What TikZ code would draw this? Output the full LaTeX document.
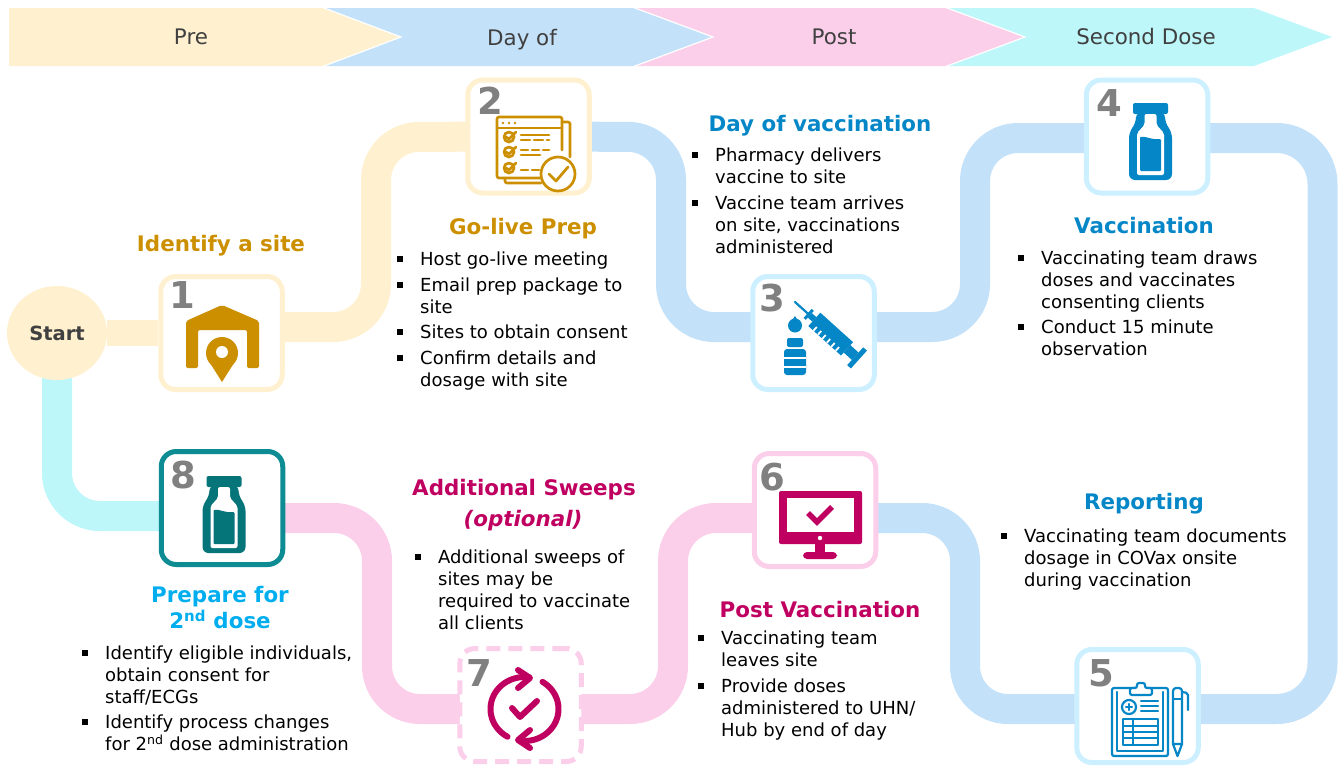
\documentclass[tikz,border=0pt]{standalone}
\usepackage{fontspec}
\usetikzlibrary{backgrounds,shapes.geometric}
\setmainfont{DejaVu Sans}
\definecolor{cream}{HTML}{FFF0D0}
\definecolor{sky}{HTML}{C4E1FA}
\definecolor{rose}{HTML}{FBCFEA}
\definecolor{aqua}{HTML}{BDF7FA}
\definecolor{gold}{HTML}{CC8F00}
\definecolor{ocean}{HTML}{0587C7}
\definecolor{magen}{HTML}{BF0060}
\definecolor{deepteal}{HTML}{06757A}
\definecolor{tealline}{HTML}{0E8C94}
\definecolor{paleblue}{HTML}{CCF0FF}
\definecolor{brightblue}{HTML}{00AEEF}
\definecolor{numgrey}{HTML}{808080}
\definecolor{ink}{HTML}{404040}
\tikzset{
  chev/.style={draw=none,fill=#1},
  phase/.style={font=\fontsize{21.4}{24}\selectfont,text=ink,inner sep=0pt},
  band/.style={line width=30pt,draw=#1,rounded corners=43pt},
  iconbox/.style={draw=#1,line width=5pt,fill=white,rounded corners=15pt,minimum width=121.5pt,minimum height=113pt,inner sep=0pt},
  num/.style={font=\bfseries\fontsize{37}{37}\selectfont,text=numgrey,inner sep=0pt},
  heading/.style={font=\bfseries\fontsize{21.4}{26}\selectfont,text=#1,inner sep=0pt,align=center},
  itemtext/.style={font=\fontsize{18}{22}\selectfont,text=black,inner sep=0pt,align=left,anchor=north west},
  ic/.style={line width=2.2pt,draw=#1,line cap=round,line join=round},
  icb/.style={line width=2.7pt,draw=#1,line cap=round,line join=round},
  arrowline/.style={magen,line width=6pt,line cap=round,line join=round},
  bottle/.pic={
    \fill[#1,rounded corners=2pt] (-17.5,0) rectangle (17.5,11);
    \fill[#1,rounded corners=6pt] (-14.5,9) -- (-14.5,20) -- (-21.5,29) -- (-21.5,77) -- (21.5,77) -- (21.5,29) -- (14.5,20) -- (14.5,9) -- cycle;
    \fill[white,rounded corners=2pt] (-6,11) -- (-6,22) -- (-13.5,30) -- (-13.5,72) -- (13.5,72) -- (13.5,30) -- (6,22) -- (6,11) -- cycle;
    \fill[#1,rounded corners=1pt] (-10.5,34) .. controls (-4,33) and (0,37) .. (10.5,36) -- (10.5,68) -- (-10.5,68) -- cycle;
  }
}
\newcommand{\bitem}[4]{%
  \node[itemtext] (#1) at (#2,#3-7.5) {#4};
  \fill[black] (#2-22.8,#3-2.8) rectangle (#2-17.2,#3+2.8);
}
\begin{document}
\begin{tikzpicture}[x=1pt,y=-1pt]
\useasboundingbox (0,0) rectangle (1338,766);
% phase chevrons
\fill[chev=cream] (9,8) -- (322,8) -- (399,37) -- (322,66) -- (9,66) -- cycle;
\fill[chev=sky] (326,8) -- (633,8) -- (711,37) -- (633,66) -- (326,66) -- (403,37) -- cycle;
\fill[chev=rose] (637,8) -- (945,8) -- (1023,37) -- (945,66) -- (637,66) -- (715,37) -- cycle;
\fill[chev=aqua] (949,8) -- (1254,8) -- (1332,37) -- (1254,66) -- (949,66) -- (1027,37) -- cycle;
\node[phase] (phPre) at (191,37) {Pre};
\node[phase] (phDay) at (522,40) {Day of};
\node[phase] (phPost) at (834,37) {Post};
\node[phase] (phSecond) at (1146,37) {Second Dose};
% start and icon boxes
\node[ellipse,fill=cream,minimum width=100pt,minimum height=94pt,inner sep=0pt,font=\bfseries\fontsize{19.5}{22}\selectfont,text=ink] (start) at (57,333) {Start};
\node[iconbox=cream] (b1) at (221.5,333) {};
\node[iconbox=cream] (b2) at (528.5,136.5) {};
\node[iconbox=paleblue] (b3) at (813.5,333) {};
\node[iconbox=paleblue] (b4) at (1147,136.5) {};
\node[iconbox=paleblue] (b5) at (1137.5,706) {};
\node[iconbox=rose] (b6) at (815,510) {};
\node[iconbox=rose,dash pattern=on 14pt off 8pt] (b7) at (520.5,705) {};
\node[iconbox=tealline] (b8) at (222,508) {};
% connectors behind the boxes
\begin{pgfonlayer}{background}
\draw[line width=26pt,draw=cream] (start) -- (b1);
\draw[band=aqua] ([yshift=-8pt]b8.center) -- (57,516) -- (start.center);
\draw[band=cream] ([yshift=6pt]b1.center) -- (376,327) -- (376,137) -- (b2.center);
\draw[band=sky] (b2.center) -- (671,137) -- (671,327) -- ([yshift=6pt]b3.center);
\draw[band=sky] ([yshift=6pt]b3.center) -- (975,327) -- (975,138) -- ([yshift=-1.5pt]b4.center);
\draw[band=sky,rounded corners=46pt] ([yshift=-1.5pt]b4.center) -- (1322.5,138) -- (1322.5,709) -- ([yshift=-3pt]b5.center);
\draw[band=sky] ([yshift=-3pt]b5.center) -- (965,709) -- (965,518) -- ([yshift=-8pt]b6.center);
\draw[band=rose] ([yshift=-8pt]b6.center) -- (673,518) -- (673,709) -- ([yshift=-4pt]b7.center);
\draw[band=rose] ([yshift=-4pt]b7.center) -- (377,709) -- (377,518) -- ([yshift=-10pt]b8.center);
\end{pgfonlayer}
% numbers
\node[num] (n1) at (182,295) {1};
\node[num] (n2) at (490,101) {2};
\node[num] (n3) at (772,298) {3};
\node[num] (n4) at (1109,103) {4};
\node[num] (n5) at (1101,673) {5};
\node[num] (n6) at (772,477) {6};
\node[num] (n7) at (479,673) {7};
\node[num] (n8) at (183,475) {8};
% icon 1: warehouse with pin
\fill[gold,rounded corners=2pt] (186,321) -- (222,305) -- (259,321) -- (259,368) -- (247,368) -- (247,330) -- (198,330) -- (198,368) -- (186,368) -- cycle;
\fill[gold] (222,382) -- (207.5,359) -- (236.5,359) -- cycle;
\fill[gold] (222,353) circle[radius=16pt];
\fill[white] (222,352) circle[radius=6pt];
% icon 2: checklist
\draw[icb=gold,rounded corners=2pt] (562,122) -- (570,122) -- (570,157);
\draw[icb=gold,rounded corners=2pt] (505,178) -- (505,183) -- (541,183);
\draw[icb=gold,rounded corners=2pt] (562,150) -- (562,117) -- (497,117) -- (497,178) -- (541,178);
\draw[icb=gold] (497,128) -- (562,128);
\foreach \dx in {503,509,515} \fill[gold] (\dx,123) circle[radius=1.3pt];
\foreach \yy in {137,152,168} {
  \draw[icb=gold] (509,\yy) circle[radius=5pt];
  \draw[icb=gold] (506,\yy) -- (509,\yy+2) -- (516,\yy-5);
}
\draw[icb=gold] (521,135) -- (549,135);
\draw[icb=gold,dash pattern=on 9pt off 4pt] (521,140) -- (549,140);
\draw[icb=gold,dash pattern=on 7pt off 4pt] (521,150) -- (549,150);
\draw[icb=gold] (521,155) -- (540,155);
\draw[icb=gold,dash pattern=on 7pt off 4pt] (521,170) -- (540,170);
\draw[icb=gold,fill=white] (558,174) circle[radius=17pt];
\draw[icb=gold] (549,174) -- (556,181) -- (568,167);
% icon 3: syringe and vial
\begin{scope}[shift={(795,302)},rotate=-42]
  \draw[ic=ocean] (0,0) -- (19,0);
  \fill[ocean] (17,-6) rectangle (20,6);
  \fill[ocean] (20,-3) rectangle (26,3);
  \fill[ocean] (26,-9) rectangle (70,9);
  \foreach \tx in {32,38,44,50,56,62} \fill[white] (\tx,4) rectangle (\tx+1.8,9);
  \fill[ocean] (70,-5) rectangle (81,5);
  \fill[ocean] (81,-12) rectangle (86,12);
\end{scope}
\fill[ocean] (795,316) -- (788.5,326) -- (801.5,326) -- cycle;
\fill[ocean] (795,325.5) circle[radius=7pt];
\fill[ocean,rounded corners=2pt] (787,338) rectangle (803,347);
\fill[ocean,rounded corners=3pt] (784,349) rectangle (806,375);
\fill[white] (784,357) rectangle (806,359);
\fill[white] (784,366) rectangle (806,368);
% icon 4 and 8: bottles
\pic at (1150.5,103) {bottle=ocean};
\pic at (224,476) {bottle=deepteal};
% icon 5: clipboard and pen
\draw[ic=ocean,rounded corners=2pt] (1112,756) rectangle (1168,688);
\draw[ic=ocean] (1117,692) -- (1117,751) -- (1163,751) -- (1163,692);
\draw[ic=ocean,fill=white,rounded corners=2pt] (1130,695) -- (1130,688) -- (1137,688) -- (1137,683) -- (1145,683) -- (1145,688) -- (1152,688) -- (1152,695) -- cycle;
\draw[ic=ocean] (1129,707) circle[radius=7pt];
\draw[ic=ocean] (1126,707) -- (1132,707) (1129,704) -- (1129,710);
\draw[ic=ocean] (1141,701) -- (1158,701) (1141,706) -- (1158,706) (1141,711) -- (1158,711);
\draw[ic=ocean] (1123,719) rectangle (1158,745);
\draw[ic=ocean] (1123,726) -- (1158,726) (1123,732) -- (1158,732) (1123,738) -- (1158,738) (1133,719) -- (1133,745);
\draw[ic=ocean,rounded corners=3pt] (1173,744) -- (1173,688) -- (1182,688) -- (1182,744);
\draw[ic=ocean] (1173,744) -- (1177.5,756) -- (1182,744) -- cycle;
\draw[ic=ocean] (1173,699) -- (1182,699) (1173,744) -- (1182,744);
\draw[ic=ocean,rounded corners=2pt] (1182,692) -- (1188,693) -- (1188,710);
% icon 6: monitor
\fill[magen,rounded corners=2pt] (779,491) rectangle (862,544);
\fill[white] (787,498) rectangle (854,532);
\draw[magen,line width=5.5pt] (808,513) -- (817,522) -- (832,507);
\fill[white] (820,538) circle[radius=2.2pt];
\fill[magen] (815,544) rectangle (825,553);
\fill[magen,rounded corners=4pt] (803,559) -- (803,552) -- (837,552) -- (837,559) -- cycle;
% icon 7: circular arrows
\draw[arrowline] plot[domain=120:278,samples=40] ({524.5+34*cos(\x)},{709+32*sin(\x)});
\draw[arrowline] plot[domain=-58:98,samples=40] ({524.5+34*cos(\x)},{709+32*sin(\x)});
\draw[arrowline] (518,670) -- (530,678) -- (518,688);
\draw[arrowline] (530,730) -- (518,740) -- (530,748);
\draw[arrowline] (512,708) -- (520,717) -- (537,701);
% headings
\node[heading=gold] (hIdentify) at (221,246) {Identify a site};
\node[heading=gold] (hGolive) at (523,229) {Go-live Prep};
\node[heading=ocean] (hDay) at (820,126) {Day of vaccination};
\node[heading=ocean] (hVacc) at (1144,226) {Vaccination};
\node[heading=ocean] (hRep) at (1144,504) {Reporting};
\node[heading=magen] (hSweep) at (524,490) {Additional Sweeps};
\node[heading=magen] (hOpt) at (523,521) {\itshape (optional)};
\node[heading=magen] (hPost) at (820,610) {Post Vaccination};
\node[heading=brightblue] (hPrep) at (220,608) {Prepare for\\2\textsuperscript{nd} dose};
% lists
\bitem{g1}{420}{259}{Host go-live meeting}
\bitem{g2}{420}{285}{Email prep package to\\site}
\bitem{g3}{420}{332}{Sites to obtain consent}
\bitem{g4}{420}{358}{Confirm details and\\dosage with site}
\bitem{d1}{715}{155}{Pharmacy delivers\\vaccine to site}
\bitem{d2}{715}{203}{Vaccine team arrives\\on site, vaccinations\\administered}
\bitem{v1}{1041}{258}{Vaccinating team draws\\doses and vaccinates\\consenting clients}
\bitem{v2}{1041}{327}{Conduct 15 minute\\observation}
\bitem{r1}{1024}{536}{Vaccinating team documents\\dosage in COVax onsite\\during vaccination}
\bitem{s1}{438}{557}{Additional sweeps of\\sites may be\\required to vaccinate\\all clients}
\bitem{p1}{721}{638}{Vaccinating team\\leaves site}
\bitem{p2}{721}{686}{Provide doses\\administered to UHN/\\Hub by end of day}
\bitem{e1}{105}{653}{Identify eligible individuals,\\obtain consent for\\staff/ECGs}
\bitem{e2}{105}{722}{Identify process changes\\for 2\textsuperscript{nd} dose administration}
\end{tikzpicture}
\end{document}
